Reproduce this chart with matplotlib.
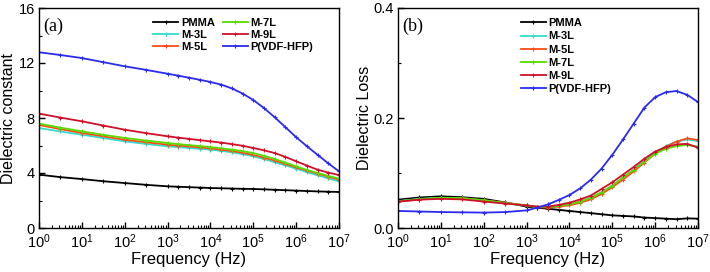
import matplotlib
matplotlib.use("Agg")
import matplotlib.pyplot as plt
import numpy as np
from matplotlib.ticker import LogLocator, NullFormatter, MultipleLocator

plt.rcParams['font.family'] = ['Liberation Sans', 'DejaVu Sans']

# frequency points as log10(Hz)
log_freq = [0, 0.5, 1, 1.5, 2, 2.5, 3, 3.25, 3.5, 3.75, 4, 4.25, 4.5, 4.75,
            5, 5.25, 5.5, 5.75, 6, 6.25, 6.5, 6.75, 7]

labels = ["PMMA", "M-3L", "M-5L", "M-7L", "M-9L", "P(VDF-HFP)"]
colors = ["#000000", "#33DDCC", "#FF4A1A", "#55DD00", "#D0102A", "#2A2AF0"]

# (a) dielectric constant
eps_pmma = [3.88, 3.70, 3.56, 3.40, 3.27, 3.14, 3.03, 3.00, 2.97, 2.94, 2.91, 2.89, 2.87, 2.85,
            2.84, 2.81, 2.78, 2.75, 2.72, 2.69, 2.66, 2.64, 2.62]
eps_m3 = [7.27, 7.02, 6.79, 6.54, 6.30, 6.11, 5.94, 5.88, 5.82, 5.76, 5.70, 5.61, 5.50, 5.37,
          5.21, 5.01, 4.78, 4.55, 4.32, 4.07, 3.83, 3.61, 3.39]
eps_m5 = [7.49, 7.19, 6.91, 6.66, 6.42, 6.23, 6.06, 5.99, 5.93, 5.86, 5.79, 5.70, 5.60, 5.47,
          5.31, 5.12, 4.90, 4.66, 4.41, 4.17, 3.95, 3.73, 3.52]
eps_m7 = [7.59, 7.30, 7.03, 6.78, 6.55, 6.36, 6.18, 6.10, 6.03, 5.96, 5.89, 5.80, 5.70, 5.59,
          5.45, 5.25, 5.02, 4.76, 4.48, 4.23, 4.00, 3.79, 3.59]
eps_m9 = [8.32, 8.03, 7.76, 7.45, 7.15, 6.90, 6.67, 6.57, 6.48, 6.39, 6.30, 6.21, 6.10, 5.98,
          5.82, 5.65, 5.45, 5.17, 4.85, 4.54, 4.24, 4.03, 3.85]
eps_pvdf = [12.78, 12.58, 12.36, 12.06, 11.76, 11.50, 11.22, 11.08, 10.93, 10.78, 10.62, 10.43,
            10.15, 9.78, 9.31, 8.72, 8.05, 7.33, 6.60, 5.95, 5.32, 4.70, 4.12]

# (b) dielectric loss
loss_pmma = [0.0515, 0.0555, 0.0576, 0.0560, 0.0530, 0.0465, 0.0390, 0.0370, 0.0350, 0.0330,
             0.0310, 0.0290, 0.0270, 0.0250, 0.0230, 0.0220, 0.0210, 0.0190, 0.0180, 0.0170,
             0.0160, 0.0175, 0.0170]
loss_m3 = [0.0490, 0.0530, 0.0550, 0.0540, 0.0500, 0.0450, 0.0410, 0.0380, 0.0380, 0.0400,
           0.0430, 0.0480, 0.0550, 0.0650, 0.0770, 0.0910, 0.1060, 0.1220, 0.1370, 0.1490,
           0.1570, 0.1610, 0.1580]
loss_m5 = [0.0480, 0.0520, 0.0545, 0.0540, 0.0505, 0.0460, 0.0410, 0.0380, 0.0370, 0.0390,
           0.0410, 0.0460, 0.0520, 0.0620, 0.0740, 0.0880, 0.1030, 0.1190, 0.1350, 0.1480,
           0.1570, 0.1630, 0.1600]
loss_m7 = [0.0485, 0.0525, 0.0550, 0.0545, 0.0505, 0.0455, 0.0410, 0.0380, 0.0380, 0.0400,
           0.0430, 0.0480, 0.0550, 0.0650, 0.0770, 0.0920, 0.1060, 0.1210, 0.1350, 0.1440,
           0.1490, 0.1510, 0.1480]
loss_m9 = [0.0480, 0.0515, 0.0530, 0.0520, 0.0480, 0.0445, 0.0410, 0.0390, 0.0390, 0.0420,
           0.0460, 0.0520, 0.0590, 0.0710, 0.0830, 0.0970, 0.1110, 0.1260, 0.1390, 0.1470,
           0.1520, 0.1530, 0.1460]
loss_pvdf = [0.0310, 0.0300, 0.0290, 0.0285, 0.0280, 0.0290, 0.0320, 0.0370, 0.0430, 0.0510,
             0.0600, 0.0720, 0.0880, 0.1080, 0.1330, 0.1610, 0.1900, 0.2190, 0.2380, 0.2470,
             0.2490, 0.2420, 0.2290]

eps_all = [eps_pmma, eps_m3, eps_m5, eps_m7, eps_m9, eps_pvdf]
loss_all = [loss_pmma, loss_m3, loss_m5, loss_m7, loss_m9, loss_pvdf]
freq = [10 ** e for e in log_freq]

fig = plt.figure(figsize=(7.10, 2.72), dpi=100)
axa = fig.add_axes([39/710, 44/272, 300/710, 220/272])
axb = fig.add_axes([398/710, 44/272, 300/710, 220/272])

def style(ax):
    ax.set_xscale('log')
    ax.set_xlim(1, 1e7)
    ax.xaxis.set_major_locator(LogLocator(base=10, numticks=10))
    ax.xaxis.set_minor_locator(LogLocator(base=10, subs=np.arange(2, 10), numticks=20))
    ax.xaxis.set_minor_formatter(NullFormatter())
    ax.tick_params(which='both', direction='in', top=False, right=False)
    ax.tick_params(which='major', length=4, width=1, labelsize=10.5, pad=3)
    ax.tick_params(which='minor', length=2, width=0.8)
    for s in ax.spines.values():
        s.set_linewidth(1.0)
    ax.set_xlabel("Frequency (Hz)", fontsize=12, labelpad=1)

for vals, lab, c in zip(eps_all, labels, colors):
    axa.plot(freq, vals, color=c, lw=1.3, marker='+', ms=3, mew=0.8, label=lab)
for vals, lab, c in zip(loss_all, labels, colors):
    axb.plot(freq, vals, color=c, lw=1.3, marker='+', ms=3, mew=0.8, label=lab)

style(axa)
axa.set_ylim(0, 16)
axa.yaxis.set_major_locator(MultipleLocator(4))
axa.yaxis.set_minor_locator(MultipleLocator(2))
axa.set_ylabel("Dielectric constant", fontsize=11.5)
axa.yaxis.set_label_coords(-0.075, 0.5)
axa.text(0.013, 0.918, "(a)", transform=axa.transAxes, fontsize=13,
         family='Liberation Serif', va='center', ha='left')

style(axb)
axb.set_ylim(0, 0.4)
axb.yaxis.set_major_locator(MultipleLocator(0.2))
axb.yaxis.set_minor_locator(MultipleLocator(0.1))
axb.set_ylabel("Dielectric Loss", fontsize=11.5)
axb.yaxis.set_label_coords(-0.088, 0.5)
axb.text(0.013, 0.918, "(b)", transform=axb.transAxes, fontsize=13,
         family='Liberation Serif', va='center', ha='left')

leg_kw = dict(frameon=False, prop={'size': 8, 'weight': 'bold'}, handlelength=2.25,
              handletextpad=0.27, borderaxespad=0, borderpad=0, loc='upper left')
ha, la = axa.get_legend_handles_labels()
axa.legend(ha, la, ncol=2, bbox_to_anchor=(0.38, 0.954), labelspacing=0.17,
           columnspacing=0.7, **leg_kw)
hb, lb = axb.get_legend_handles_labels()
axb.legend(hb, lb, ncol=1, bbox_to_anchor=(0.409, 0.953), labelspacing=0.28, **leg_kw)

fig.savefig("out.png", dpi=100)
